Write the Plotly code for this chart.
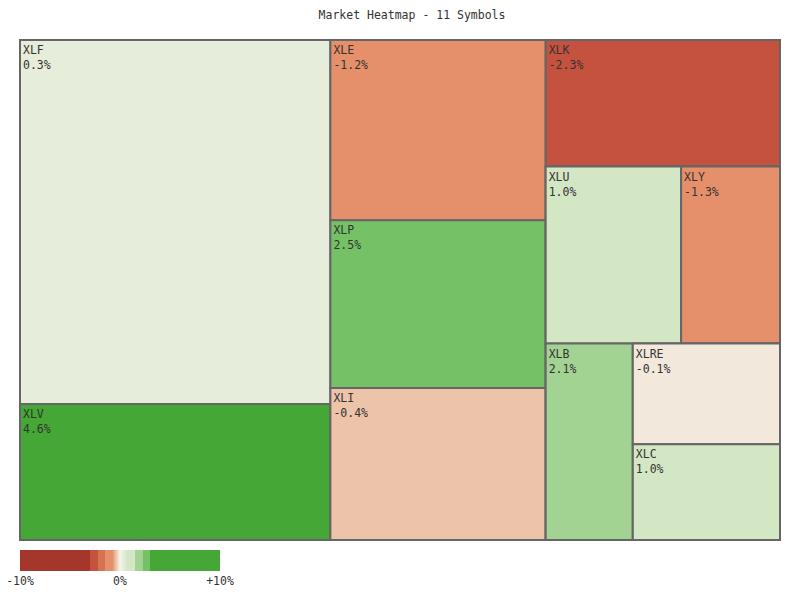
import plotly.graph_objects as go

# Leaf data
symbols = ["XLF", "XLV", "XLE", "XLP", "XLI", "XLK", "XLU", "XLY", "XLB", "XLRE", "XLC"]
weights = [29.7, 11.1, 10.2, 9.5, 8.6, 7.8, 6.3, 4.6, 4.5, 3.9, 3.7]
changes = [0.3, 4.6, -1.2, 2.5, -0.4, -2.3, 1.0, -1.3, 2.1, -0.1, 1.0]

# Unlabelled layout blocks of the heatmap (block -> members, in drawing order)
blocks = {
    "all": ["g1", "g2", "g3"],
    "g1": ["XLF", "XLV"],
    "g2": ["XLE", "XLP", "XLI"],
    "g3": ["XLK", "g3b", "g3c"],
    "g3b": ["XLU", "XLY"],
    "g3c": ["XLB", "g3d"],
    "g3d": ["XLRE", "XLC"],
}

scale_ticks = [-10, 0, 10]
scale_ticklabels = ["-10%", "0%", "+10%"]

CMIN, CMAX = -10, 10


def t(v):
    return (v - CMIN) / (CMAX - CMIN)


colorscale = [
    [t(-10), "#a5362c"], [t(-3), "#a5362c"],
    [t(-3), "#c5523f"], [t(-2.25), "#c5523f"],
    [t(-2.25), "#d4734f"], [t(-1.5), "#d4734f"],
    [t(-1.5), "#e5906b"], [t(-0.75), "#e5906b"],
    [t(-0.4), "#edc3aa"],
    [t(-0.1), "#f2e8dc"],
    [t(0), "#f6f4ec"],
    [t(0.3), "#e6eedb"],
    [t(0.75), "#d4e7c4"], [t(1.5), "#d4e7c4"],
    [t(1.5), "#a3d393"], [t(2.25), "#a3d393"],
    [t(2.25), "#75c266"], [t(3), "#75c266"],
    [t(3), "#45a735"], [t(10), "#45a735"],
]

FONT = "DejaVu Sans Mono, Liberation Mono, monospace"
FS = 11.5

leaf_index = {s: i for i, s in enumerate(symbols)}
ids, parents, values, colors, templates = [], [], [], [], []


def walk(node, parent):
    ids.append(node)
    parents.append(parent)
    if node in leaf_index:
        i = leaf_index[node]
        values.append(weights[i])
        colors.append(changes[i])
        templates.append("%{label}<br>%{customdata:.1f}%")
    else:
        values.append(0)
        colors.append(0)
        templates.append("")
        for child in blocks[node]:
            walk(child, node)


walk("all", "")

fig = go.Figure(go.Treemap(
    ids=ids,
    labels=ids,
    parents=parents,
    values=values,
    branchvalues="remainder",
    customdata=colors,
    texttemplate=templates,
    textposition="top left",
    textfont=dict(family=FONT, size=FS, color="#333333"),
    hoverinfo="skip",
    sort=False,
    tiling=dict(packing="slice-dice", pad=0),
    pathbar=dict(visible=False),
    root=dict(color="rgba(0,0,0,0)"),
    marker=dict(
        colors=colors,
        colorscale=colorscale,
        cmin=CMIN, cmax=CMAX,
        pad=dict(t=0, l=0, r=0, b=0),
        line=dict(color="#666666", width=2),
        showscale=True,
        colorbar=dict(
            orientation="h",
            x=0, xanchor="left", xref="paper",
            y=-0.02, yanchor="top", yref="paper",
            len=200, lenmode="pixels",
            thickness=21, thicknessmode="pixels",
            xpad=0, ypad=0,
            outlinewidth=0,
            tickvals=scale_ticks,
            ticktext=scale_ticklabels,
            ticks="",
            ticklabeloverflow="allow",
            tickfont=dict(family=FONT, size=FS, color="#333333"),
        ),
    ),
))

fig.update_layout(
    width=800, height=600,
    margin=dict(l=20, r=20, t=40, b=60),
    paper_bgcolor="white",
    title=dict(text="Market Heatmap - 11 Symbols", x=412 / 800, xanchor="center",
               y=1 - 15 / 600, yanchor="middle", yref="container",
               font=dict(family=FONT, size=FS, color="#333333")),
)

fig.write_html("out.html", config={"displayModeBar": False},
               post_script="document.body.style.margin='0px';")
